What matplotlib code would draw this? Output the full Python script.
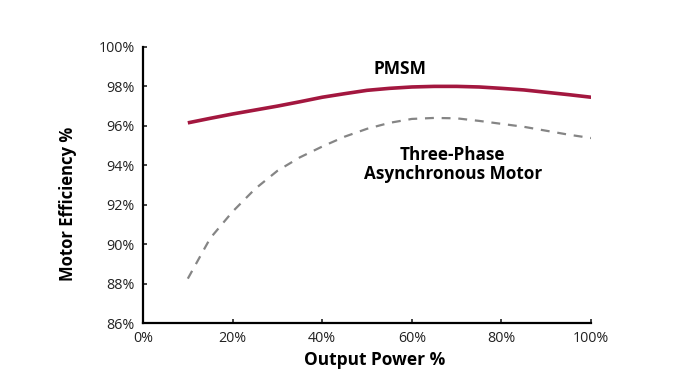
import matplotlib
matplotlib.use('Agg')
import matplotlib.pyplot as plt
from matplotlib.ticker import PercentFormatter

# output power (%) and efficiency (%)
power = [10, 15, 20, 25, 30, 35, 40, 45, 50, 55, 60, 65, 70, 75, 80, 85, 90, 95, 100]
pmsm = [96.15, 96.38, 96.6, 96.8, 97.0, 97.22, 97.45, 97.63, 97.8, 97.9, 97.97, 98.0,
        98.0, 97.97, 97.9, 97.82, 97.7, 97.58, 97.45]
async_motor = [88.25, 90.3, 91.65, 92.8, 93.72, 94.4, 94.95, 95.45, 95.85, 96.15, 96.35,
               96.4, 96.38, 96.25, 96.1, 95.95, 95.75, 95.55, 95.38]

xticks = [0, 20, 40, 60, 80, 100]
yticks = [86, 88, 90, 92, 94, 96, 98, 100]

plt.rcParams['font.family'] = ['Open Sans', 'DejaVu Sans']

fig = plt.figure(figsize=(6.81, 3.88), dpi=100)
ax = fig.add_axes([0.21, 0.1675, 0.658, 0.7115])

ax.plot(power, pmsm, color='#A3173F', lw=2.6, solid_capstyle='butt', solid_joinstyle='round')
ax.plot(power, async_motor, color='#858585', lw=1.6, dashes=(4, 3.5))

ax.set_xlim(0, 100)
ax.set_ylim(86, 100)
ax.set_xticks(xticks)
ax.set_yticks(yticks)
ax.xaxis.set_major_formatter(PercentFormatter(decimals=0))
ax.yaxis.set_major_formatter(PercentFormatter(decimals=0))
ax.tick_params(direction='in', length=3, width=1.2, labelsize=10.3, colors='#222222', pad=6)

for s in ['top', 'right']:
    ax.spines[s].set_visible(False)
for s in ['left', 'bottom']:
    ax.spines[s].set_linewidth(1.6)

ax.set_xlabel('Output Power %', fontsize=12.5, fontweight='bold')
ax.xaxis.set_label_coords(0.516, -0.1)
ax.set_ylabel('Motor Efficiency %', fontsize=12, fontweight='bold')
ax.yaxis.set_label_coords(-0.147, 0.43)

ax.text(57.4, 98.9, 'PMSM', fontsize=12.5, fontweight='bold', ha='center', va='center')
ax.text(69.1, 94.05, 'Three-Phase\nAsynchronous Motor', fontsize=12.3, fontweight='bold',
        ha='center', va='center', linespacing=1.1)

fig.savefig('out.png', dpi=100)
